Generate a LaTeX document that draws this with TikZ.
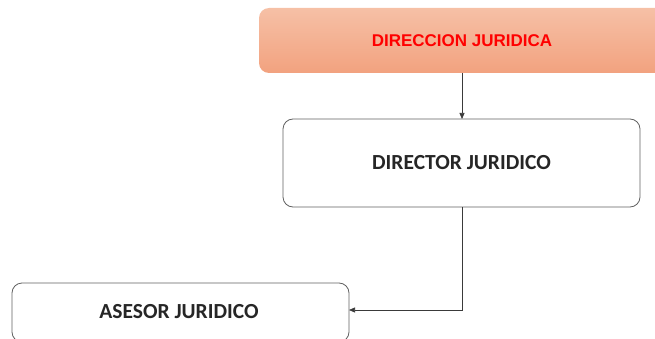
\documentclass[tikz,border=0pt]{standalone}
\usepackage{fontspec}
\setmainfont{Carlito}
\newfontfamily\arialfont{Liberation Sans}
\usetikzlibrary{arrows.meta}
\definecolor{salmonTop}{HTML}{F6C0A6}
\definecolor{salmonBot}{HTML}{F2A27F}
\definecolor{lineGray}{HTML}{3A3A3A}
\begin{document}
\begin{tikzpicture}[x=1pt,y=-1pt,
  boxstyle/.style={draw=lineGray!80, line width=0.8pt, rounded corners=10pt, fill=white},
  headstyle/.style={rounded corners=10pt, top color=salmonTop, bottom color=salmonBot, draw=none},
  conn/.style={draw=lineGray, line width=0.7pt, -{Triangle[length=6pt,width=5pt]}},
  lbl/.style={font=\bfseries\fontsize{21.5}{24}\selectfont, text=black!85},
  hlbl/.style={font=\arialfont\bfseries\fontsize{17}{20}\selectfont, text=red}]
\useasboundingbox (0,0) rectangle (655,339);
\begin{scope}
\clip (0,0) rectangle (655,339);
\path[headstyle] (259,8) rectangle (665,73);
\node[hlbl] (dir) at (462,41) {DIRECCION JURIDICA};
\coordinate (dirbot) at (462,73);
\draw[boxstyle] (283,119) rectangle (640,207);
\node[lbl] (dj) at (461.5,163) {DIRECTOR JURIDICO};
\coordinate (djtop) at (462,119);
\coordinate (djbot) at (462,207);
\draw[boxstyle] (12,283) rectangle (349,342);
\node[lbl] (aj) at (179,312) {ASESOR JURIDICO};
\coordinate (ajright) at (349,310);
\draw[conn] (dirbot) -- (djtop);
\draw[conn] (djbot) |- (ajright);
\end{scope}
\end{tikzpicture}
\end{document}
